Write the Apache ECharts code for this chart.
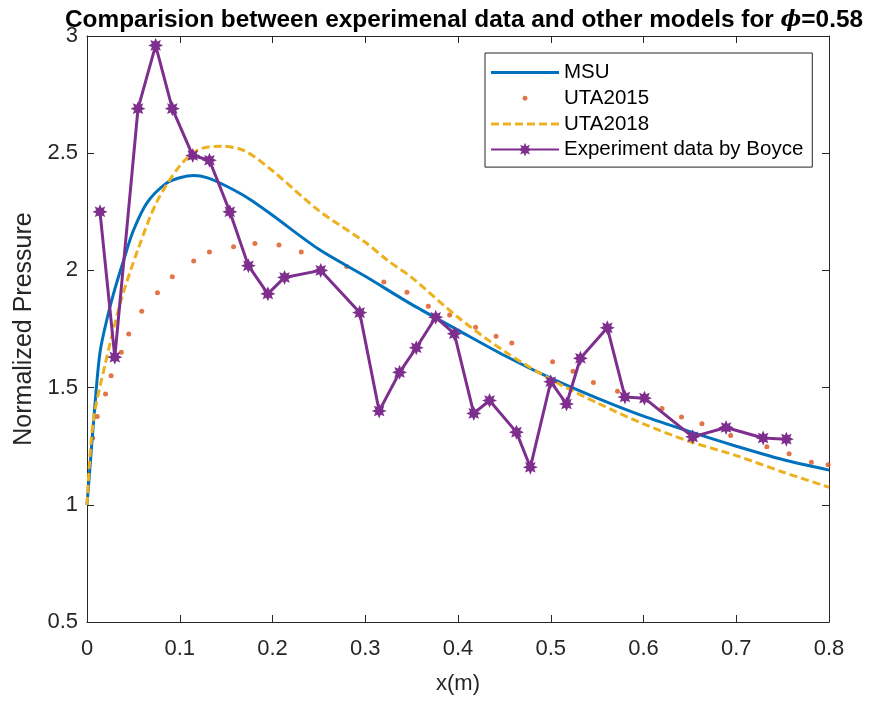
<!DOCTYPE html>
<html><head><meta charset="utf-8">
<script src="https://cdn.jsdelivr.net/npm/echarts@6/dist/echarts.min.js"></script>
<style>html,body{margin:0;padding:0;background:#fff}#c{width:873px;height:702px}</style>
</head><body><div id="c"></div>
<script>
// ---- data ----
const msuX = [0, 0.004, 0.008, 0.014, 0.022, 0.03, 0.04, 0.05, 0.065, 0.085, 0.1, 0.115, 0.13, 0.15, 0.175, 0.2, 0.25, 0.3, 0.35, 0.4, 0.45, 0.5, 0.55, 0.6, 0.65, 0.7, 0.75, 0.8];
const msuY = [1, 1.2, 1.4, 1.65, 1.8, 1.92, 2.05, 2.17, 2.29, 2.37, 2.395, 2.405, 2.395, 2.36, 2.305, 2.235, 2.09, 1.975, 1.855, 1.745, 1.637, 1.54, 1.455, 1.378, 1.312, 1.25, 1.193, 1.148];

const uta15X = [0.006, 0.011, 0.020, 0.026, 0.037, 0.045, 0.059, 0.076, 0.092, 0.115, 0.132, 0.158, 0.181, 0.207, 0.231, 0.280, 0.320, 0.345, 0.368, 0.391, 0.419, 0.441, 0.458, 0.502, 0.524, 0.546, 0.572, 0.620, 0.641, 0.663, 0.694, 0.733, 0.757, 0.781, 0.799];
const uta15Y = [1.285, 1.377, 1.473, 1.551, 1.651, 1.729, 1.826, 1.905, 1.973, 2.040, 2.078, 2.101, 2.115, 2.108, 2.078, 2.017, 1.950, 1.907, 1.847, 1.81, 1.757, 1.719, 1.690, 1.610, 1.570, 1.522, 1.484, 1.411, 1.375, 1.346, 1.296, 1.248, 1.218, 1.181, 1.171];

const uta18X = [0, 0.0065, 0.019, 0.037, 0.055, 0.075, 0.1, 0.12, 0.145, 0.17, 0.2, 0.25, 0.3, 0.325, 0.35, 0.4, 0.45, 0.5, 0.55, 0.6, 0.65, 0.7, 0.75, 0.8];
const uta18Y = [1, 1.35, 1.59, 1.876, 2.09, 2.29, 2.446, 2.515, 2.53, 2.51, 2.425, 2.255, 2.12, 2.04, 1.97, 1.80, 1.655, 1.535, 1.435, 1.345, 1.27, 1.21, 1.14, 1.075];

const expX = [0.014, 0.030, 0.055, 0.074, 0.092, 0.114, 0.132, 0.154, 0.174, 0.195, 0.213, 0.252, 0.294, 0.315, 0.337, 0.355, 0.376, 0.396, 0.417, 0.434, 0.463, 0.478, 0.500, 0.517, 0.532, 0.561, 0.580, 0.601, 0.653, 0.689, 0.729, 0.754];
const expY = [2.25, 1.63, 2.69, 2.96, 2.69, 2.49, 2.47, 2.25, 2.02, 1.90, 1.97, 2.00, 1.82, 1.40, 1.565, 1.67, 1.80, 1.73, 1.39, 1.445, 1.31, 1.16, 1.525, 1.43, 1.625, 1.755, 1.46, 1.455, 1.29, 1.33, 1.285, 1.28];

const seriesNames = ['MSU', 'UTA2015', 'UTA2018', 'Experiment data by Boyce'];
const xTicks = {min: 0, max: 0.8, step: 0.1};
const yTicks = {min: 0.5, max: 3, step: 0.5};

// ---- helpers ----
const zip = (a, b) => a.map((v, i) => [v, b[i]]);
function starPath(n, r1, r2) {
  let d = '';
  for (let i = 0; i < 2 * n; i++) {
    const a = Math.PI * i / n - Math.PI / 2;
    const r = i % 2 ? r2 : r1;
    d += (i ? 'L' : 'M') + (50 + 50 * r * Math.cos(a)).toFixed(2) + ',' + (50 + 50 * r * Math.sin(a)).toFixed(2);
  }
  return 'path://' + d + 'Z';
}
const IW = 68, IH = 17;
function frame() { return 'M0,0L0.01,0M' + IW + ',' + IH + 'L' + (IW - 0.01) + ',' + IH; }
function dotPath(r) {
  let d = frame();
  for (let i = 0; i < 12; i++) {
    const a = Math.PI * 2 * i / 12;
    d += (i ? 'L' : 'M') + (IW / 2 + r * Math.cos(a)).toFixed(2) + ',' + (IH / 2 + r * Math.sin(a)).toFixed(2);
  }
  return 'path://' + d + 'Z';
}
function barPath(h, dash, gap) {
  let d = frame();
  const y0 = IH / 2 - h / 2, y1 = IH / 2 + h / 2;
  if (!dash) {
    d += 'M0,' + y0 + 'L' + IW + ',' + y0 + 'L' + IW + ',' + y1 + 'L0,' + y1 + 'Z';
  } else {
    for (let x = 0; x < IW; x += dash + gap) {
      const x2 = Math.min(IW, x + dash);
      d += 'M' + x + ',' + y0 + 'L' + x2 + ',' + y0 + 'L' + x2 + ',' + y1 + 'L' + x + ',' + y1 + 'Z';
    }
  }
  return 'path://' + d;
}
const fmt = v => String(Math.round(v * 10) / 10);
const AX = '#262626';
const FONT = 'Liberation Sans, Arial, Helvetica, sans-serif';

const baseX = {
  type: 'value', min: xTicks.min, max: xTicks.max, interval: xTicks.step,
  axisLine: {show: true, onZero: false, lineStyle: {color: AX, width: 1}},
  axisTick: {show: true, inside: true, length: 7, lineStyle: {color: AX}},
  splitLine: {show: false}
};
const baseY = {
  type: 'value', min: yTicks.min, max: yTicks.max, interval: yTicks.step,
  axisLine: {show: true, onZero: false, lineStyle: {color: AX, width: 1}},
  axisTick: {show: true, inside: true, length: 7, lineStyle: {color: AX}},
  splitLine: {show: false}
};

const chart = echarts.init(document.getElementById('c'));
chart.setOption({
  backgroundColor: '#fff',
  animation: false,
  textStyle: {fontFamily: FONT},
  title: {
    text: '{b|Comparision between experimenal data and other models for }{p|ϕ}{b|=0.58}',
    left: 60, top: 3,
    textStyle: {
      rich: {
        b: {fontFamily: FONT, fontWeight: 'bold', fontSize: 24.4, color: '#000'},
        p: {fontFamily: 'DejaVu Serif, serif', fontStyle: 'italic', fontSize: 22, color: '#000'}
      }
    }
  },
  grid: {left: 87, right: 44, top: 36, bottom: 80, containLabel: false},
  xAxis: [
    Object.assign({}, baseX, {
      position: 'bottom',
      axisLabel: {fontSize: 22, color: AX, margin: 16, formatter: fmt, fontFamily: FONT},
      name: 'x(m)', nameLocation: 'middle', nameGap: 51,
      nameTextStyle: {fontSize: 22, color: AX, fontFamily: FONT}
    }),
    Object.assign({}, baseX, {position: 'top', axisLabel: {show: false}})
  ],
  yAxis: [
    Object.assign({}, baseY, {
      position: 'left',
      axisLabel: {fontSize: 22, color: AX, margin: 9, formatter: fmt, fontFamily: FONT},
      name: 'Normalized Pressure', nameLocation: 'middle', nameGap: 50,
      nameTextStyle: {fontSize: 25, color: AX, fontFamily: FONT}
    }),
    Object.assign({}, baseY, {position: 'right', axisLabel: {show: false}})
  ],
  legend: {
    orient: 'vertical', left: 485, top: 53,
    backgroundColor: '#fff', borderColor: AX, borderWidth: 1,
    padding: [9, 9, 7, 5], itemGap: 4.7, itemWidth: IW, itemHeight: IH,
    textStyle: {fontSize: 20.5, lineHeight: 20, color: '#000', fontFamily: FONT},
    data: [
      {name: seriesNames[0], icon: barPath(3, 0, 0)},
      {name: seriesNames[1], icon: dotPath(2.5)},
      {name: seriesNames[2], icon: barPath(3, 8, 4)},
      {name: seriesNames[3]}
    ]
  },
  series: [
    {
      name: seriesNames[0], type: 'line', data: zip(msuX, msuY),
      symbol: 'none', smooth: 0.3, color: '#0072BD',
      lineStyle: {color: '#0072BD', width: 3}
    },
    {
      name: seriesNames[1], type: 'scatter', data: zip(uta15X, uta15Y),
      symbol: 'circle', symbolSize: 5, color: '#D95319',
      itemStyle: {color: '#D95319'}
    },
    {
      name: seriesNames[2], type: 'line', data: zip(uta18X, uta18Y),
      symbol: 'none', smooth: 0.3, color: '#EDB120',
      lineStyle: {color: '#EDB120', width: 3, type: [8, 4]}
    },
    {
      name: seriesNames[3], type: 'line', data: zip(expX, expY),
      symbol: starPath(8, 1, 0.55), symbolSize: 15, showAllSymbol: true,
      color: '#7E2F8E',
      lineStyle: {color: '#7E2F8E', width: 3},
      itemStyle: {color: '#7E2F8E'}
    }
  ]
});
</script>
</body></html>
